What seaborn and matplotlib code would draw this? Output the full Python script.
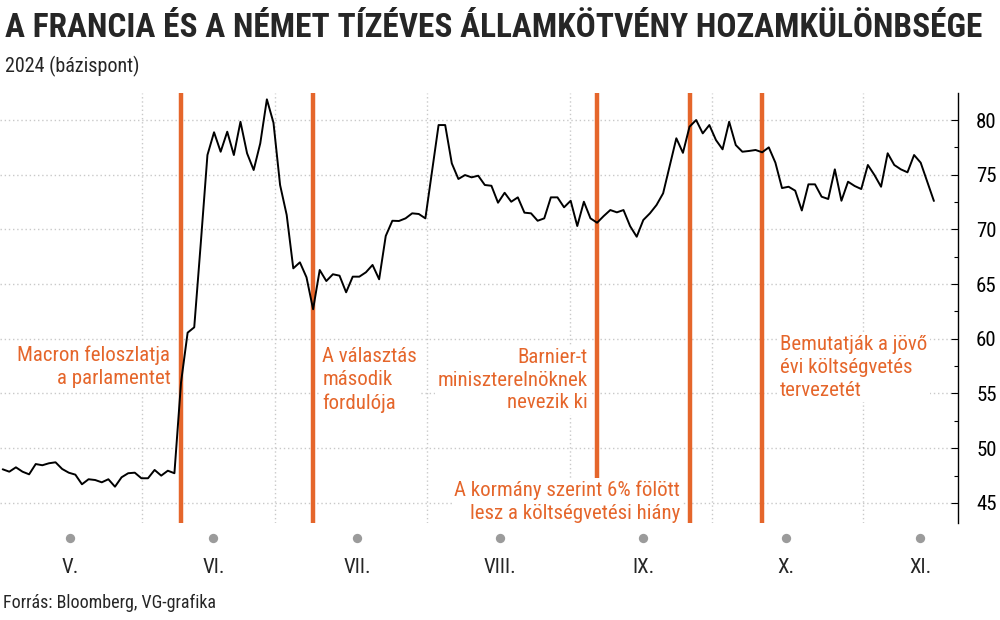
import numpy as np
import pandas as pd
import matplotlib
matplotlib.use("Agg")
import matplotlib.pyplot as plt
import seaborn as sns
from matplotlib import font_manager as fm
from matplotlib.transforms import blended_transform_factory
from matplotlib.ticker import MultipleLocator, FixedLocator

# ---- data (trading-day index, basis points) ----
spread = [
    48.07, 47.85, 48.25, 47.85, 47.61, 48.55, 48.44, 48.62, 48.71, 48.10,
    47.76, 47.58, 46.70, 47.16, 47.09, 46.88, 47.16, 46.48, 47.34, 47.71,
    47.76, 47.25, 47.25, 48.01, 47.49, 47.94, 47.71, 56.00, 60.56, 61.05,
    68.80, 76.80, 78.88, 77.10, 78.93, 76.80, 79.84, 76.96, 75.43, 77.87,
    81.89, 79.75, 74.06, 71.32, 66.44, 66.99, 65.62, 62.70, 66.29, 65.28,
    65.90, 65.77, 64.25, 65.68, 65.68, 66.08, 66.75, 65.44, 69.40, 70.79,
    70.77, 71.01, 71.47, 71.41, 71.01, 75.27, 79.54, 79.54, 76.04, 74.61,
    74.97, 74.76, 74.91, 74.06, 73.99, 72.44, 73.35, 72.53, 72.93, 71.53,
    71.47, 70.79, 71.01, 72.93, 72.93, 72.02, 72.62, 70.31, 72.53, 71.01,
    70.61, 71.22, 71.77, 71.56, 71.77, 70.30, 69.33, 70.86, 71.47, 72.23,
    73.30, 75.80, 78.33, 77.00, 79.39, 80.00, 78.78, 79.54, 78.17, 77.32,
    79.84, 77.71, 77.10, 77.17, 77.26, 77.05, 77.50, 76.10, 73.78, 73.90,
    73.54, 71.73, 74.12, 74.12, 72.99, 72.78, 75.49, 72.62, 74.36, 73.97,
    73.69, 75.89, 74.97, 73.90, 76.96, 75.89, 75.49, 75.22, 76.80, 76.10,
    74.36, 72.60,
]
month_labels = ["V.", "VI.", "VII.", "VIII.", "IX.", "X.", "XI."]
month_label_pos = [10.2, 31.9, 53.7, 75.3, 97.0, 118.6, 138.9]
month_starts = [21.1, 41.2, 64.25, 85.9, 107.4, 130.3]
event_pos = [27, 47, 90, 104, 115]
annotations = [
    ("Macron feloszlatja\na parlamentet", 25.4, 57.47, "right"),
    ("A választás\nmásodik\nfordulója", 48.4, 56.23, "left"),
    ("Barnier-t\nminiszterelnöknek\nnevezik ki", 88.6, 56.23, "right"),
    ("A kormány szerint 6% fölött\nlesz a költségvetési hiány", 102.6, 45.13, "right"),
    ("Bemutatják a jövő\névi költségvetés\ntervezetét", 117.7, 57.38, "left"),
]
yticks = [45, 50, 55, 60, 65, 70, 75, 80]

title = "A FRANCIA ÉS A NÉMET TÍZÉVES ÁLLAMKÖTVÉNY HOZAMKÜLÖNBSÉGE"
subtitle = "2024 (bázispont)"
source = "Forrás: Bloomberg, VG-grafika"

ORANGE = "#E5662B"
GRID = "#c9c9c9"

sns.set_style("white")
avail = {f.name for f in fm.fontManager.ttflist}
fams = [f for f in ["Liberation Sans Narrow", "Roboto Condensed", "DejaVu Sans Condensed"] if f in avail]
plt.rcParams["font.family"] = fams + ["DejaVu Sans"]

fig = plt.figure(figsize=(10, 6.2), dpi=100)
ax = fig.add_axes([0.0, 97 / 620, 0.958, 430 / 620])

df = pd.DataFrame({"nap": np.arange(len(spread)), "spread": spread})
sns.lineplot(data=df, x="nap", y="spread", color="black", lw=1.4, ax=ax, zorder=6)

for x in event_pos:
    ax.axvline(x, color=ORANGE, lw=3.2, zorder=4)

ax.set_xlim(-0.41, 144.65)
ax.set_ylim(43.16, 82.47)

# axes / ticks
for s in ["left", "top", "bottom"]:
    ax.spines[s].set_visible(False)
ax.spines["right"].set_color("black")
ax.spines["right"].set_linewidth(1.0)
ax.yaxis.tick_right()
ax.set_yticks(yticks)
ax.yaxis.set_minor_locator(MultipleLocator(2.5))
ax.tick_params(axis="y", which="major", direction="in", length=5, width=0.8,
               labelsize=15, pad=13, colors="black")
ax.tick_params(axis="y", which="minor", direction="in", length=3, width=0.8, colors="black")

ax.set_xticks(month_label_pos)
ax.set_xticklabels(month_labels)
ax.xaxis.set_minor_locator(FixedLocator(month_starts))
ax.tick_params(axis="x", which="both", length=0, labelsize=15, pad=25)

ax.grid(which="major", axis="y", ls=(0, (1, 2)), color=GRID, lw=1)
ax.grid(which="minor", axis="x", ls=(0, (1, 2)), color=GRID, lw=1)
ax.grid(which="major", axis="x", visible=False)
ax.set_xlabel("")
ax.set_ylabel("")

trans = blended_transform_factory(ax.transData, ax.transAxes)
ax.scatter(month_label_pos, [-0.034] * len(month_label_pos), transform=trans,
           s=45, color="#9b9b9b", clip_on=False, zorder=5, linewidths=0)

for txt, x, y, ha in annotations:
    ax.text(x, y, txt, ha=ha, va="center", color=ORANGE, fontsize=15,
            linespacing=1.25, zorder=5,
            bbox=dict(boxstyle="square,pad=0.12", fc="white", ec="none"))

fig.text(0.005, 1 - 28 / 620, title, fontsize=24, fontweight="bold", va="center", ha="left")
fig.text(0.005, 1 - 66 / 620, subtitle, fontsize=14.5, va="center", ha="left")
fig.text(0.003, 1 - 603 / 620, source, fontsize=13, va="center", ha="left")

fig.savefig("out.png", dpi=100)
